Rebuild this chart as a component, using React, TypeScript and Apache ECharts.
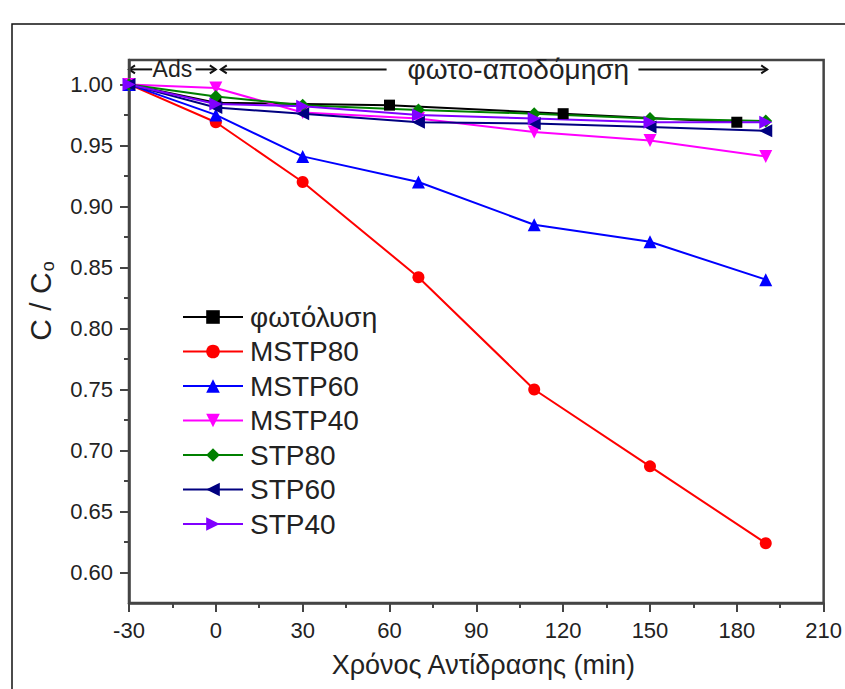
import React, { useEffect, useRef } from 'react';
import * as echarts from 'echarts';

// ---- data ----
const timeMin = [-30, 0, 30, 70, 110, 150, 190];
const photolysisTime = [-30, 0, 60, 120, 180];
const photolysis = [1.0, 0.985, 0.983, 0.976, 0.969];
const mstp80 = [1.0, 0.969, 0.92, 0.842, 0.75, 0.687, 0.624];
const mstp60 = [1.0, 0.975, 0.941, 0.92, 0.885, 0.871, 0.84];
const mstp40 = [1.0, 0.997, 0.977, 0.972, 0.961, 0.954, 0.941];
const stp80 = [1.0, 0.99, 0.983, 0.979, 0.976, 0.972, 0.97];
const stp60 = [1.0, 0.981, 0.976, 0.969, 0.968, 0.965, 0.962];
const stp40 = [1.0, 0.984, 0.982, 0.975, 0.972, 0.969, 0.969];

const seriesNames = ['φωτόλυση', 'MSTP80', 'MSTP60', 'MSTP40', 'STP80', 'STP60', 'STP40'];
const yMajorTicks = [0.6, 0.65, 0.7, 0.75, 0.8, 0.85, 0.9, 0.95, 1.0];
const yMinorTicks = [0.625, 0.675, 0.725, 0.775, 0.825, 0.875, 0.925, 0.975];

const xTitle = 'Χρόνος Αντίδρασης (min)';
const adsLabel = 'Ads';
const photoLabel = 'φωτο-αποδόμηση';

const FONT = "'Liberation Sans', Arial, Helvetica, sans-serif";
const AXIS = '#444';

const zip = (xs: number[], ys: number[]) => xs.map((x, i) => [x, ys[i]]);

export default function App() {
  const ref = useRef<HTMLDivElement>(null);
  useEffect(() => {
    if (!ref.current) return;
    const chart = echarts.init(ref.current, null, { renderer: 'svg' });
    const mk = (
      name: string,
      xs: number[],
      ys: number[],
      color: string,
      symbol: string,
      size: number,
      rotate = 0
    ) => ({
      name,
      type: 'line',
      data: zip(xs, ys),
      symbol,
      symbolSize: size,
      symbolRotate: rotate,
      showAllSymbol: true,
      lineStyle: { color, width: 2 },
      itemStyle: { color },
      emphasis: { disabled: true },
    });
    const series = [
      mk(seriesNames[0], photolysisTime, photolysis, '#000000', 'rect', 11),
      mk(seriesNames[1], timeMin, mstp80, '#ff0000', 'circle', 12),
      mk(seriesNames[2], timeMin, mstp60, '#0000ff', 'triangle', 13),
      mk(seriesNames[3], timeMin, mstp40, '#ff00ff', 'triangle', 13, 180),
      mk(seriesNames[4], timeMin, stp80, '#008000', 'diamond', 13),
      mk(seriesNames[5], timeMin, stp60, '#000080', 'triangle', 13, 90),
      mk(seriesNames[6], timeMin, stp40, '#8000ff', 'triangle', 13, -90),
    ];
    chart.setOption({
      animation: false,
      backgroundColor: '#ffffff',
      grid: {
        left: 129,
        top: 60,
        width: 696,
        height: 543,
        show: true,
        borderColor: AXIS,
        borderWidth: 2.5,
        backgroundColor: 'transparent',
      },
      legend: {
        orient: 'vertical',
        left: 182,
        top: 303,
        itemWidth: 60,
        itemHeight: 17,
        itemGap: 6.5,
        padding: 0,
        data: seriesNames,
        textStyle: {
          fontFamily: FONT,
          fontSize: 28,
          lineHeight: 28,
          color: '#222',
          padding: [0, 0, 0, 2],
        },
        selectedMode: false,
      },
      xAxis: {
        type: 'value',
        min: -30,
        max: 210,
        interval: 30,
        name: xTitle,
        nameLocation: 'middle',
        nameGap: 48,
        nameTextStyle: { fontFamily: FONT, fontSize: 27, color: '#222', padding: [0, 0, 0, 14] },
        axisLine: { show: true, onZero: false, lineStyle: { color: AXIS, width: 2.5 } },
        axisTick: { show: true, inside: false, length: 9, lineStyle: { color: AXIS, width: 2 } },
        minorTick: { show: true, splitNumber: 2, length: 5, lineStyle: { color: AXIS, width: 2 } },
        splitLine: { show: false },
        axisLabel: { fontFamily: FONT, fontSize: 22, color: '#222', margin: 16 },
      },
      yAxis: [
        {
          type: 'value',
          min: 0.575,
          max: 1.02,
          position: 'left',
          axisLine: { show: true, onZero: false, lineStyle: { color: AXIS, width: 2.5 } },
          axisTick: {
            show: true,
            inside: false,
            length: 9,
            customValues: yMajorTicks,
            lineStyle: { color: AXIS, width: 2 },
          },
          splitLine: { show: false },
          axisLabel: {
            fontFamily: FONT,
            fontSize: 22,
            color: '#222',
            margin: 16,
            customValues: yMajorTicks,
            formatter: (v: number) => v.toFixed(2),
          },
        },
        {
          type: 'value',
          min: 0.575,
          max: 1.02,
          position: 'left',
          offset: 0,
          axisLine: { show: false, onZero: false },
          axisTick: {
            show: true,
            inside: false,
            length: 5,
            customValues: yMinorTicks,
            lineStyle: { color: AXIS, width: 2 },
          },
          splitLine: { show: false },
          axisLabel: { show: false },
        },
      ],
      series,
    });

    const p = (x: number, y: number) =>
      chart.convertToPixel({ xAxisIndex: 0, yAxisIndex: 0 }, [x, y]) as number[];
    const yA = 1.0123;
    const ln = (x1: number, x2: number) => {
      const a = p(x1, yA);
      const b = p(x2, yA);
      return { type: 'line', shape: { x1: a[0], y1: a[1], x2: b[0], y2: b[1] }, style: { stroke: '#111', lineWidth: 2 } };
    };
    const head = (x: number, dir: number) => {
      const a = p(x, yA);
      return {
        type: 'polyline',
        shape: { points: [[a[0] - dir * 6, a[1] - 4], [a[0], a[1]], [a[0] - dir * 6, a[1] + 4]] },
        style: { stroke: '#111', lineWidth: 2, fill: null },
      };
    };
    const txt = (x: number, text: string, size: number) => {
      const a = p(x, yA);
      return {
        type: 'text',
        x: a[0],
        y: a[1],
        style: { text, fontFamily: FONT, fontSize: size, fill: '#222', align: 'center', verticalAlign: 'middle' },
      };
    };
    chart.setOption({
      graphic: [
        {
          type: 'rect',
          shape: { x: 12, y: 24, width: 900, height: 800 },
          style: { stroke: '#111', lineWidth: 1.5, fill: null },
          silent: true,
        },
        ln(-30, -22),
        head(-30, -1),
        txt(-15, adsLabel, 23),
        ln(-7, 0),
        head(0, 1),
        ln(1.7, 59),
        head(1.7, -1),
        txt(104.5, photoLabel, 28),
        ln(146, 190.5),
        head(190.5, 1),
        {
          type: 'text',
          x: 40,
          y: 301,
          rotation: Math.PI / 2,
          style: {
            text: '{m|C / C}{s|o}',
            align: 'center',
            verticalAlign: 'middle',
            rich: {
              m: { fontFamily: FONT, fontSize: 30, fill: '#222', lineHeight: 34 },
              s: { fontFamily: FONT, fontSize: 18, fill: '#222', lineHeight: 34, verticalAlign: 'bottom', padding: [0, 0, 0, 1] },
            },
          },
        },
      ],
    });
    return () => chart.dispose();
  }, []);
  return (
    <div
      ref={ref}
      style={{ position: 'fixed', left: 0, top: 0, width: 845, height: 689, background: '#fff' }}
    />
  );
}
